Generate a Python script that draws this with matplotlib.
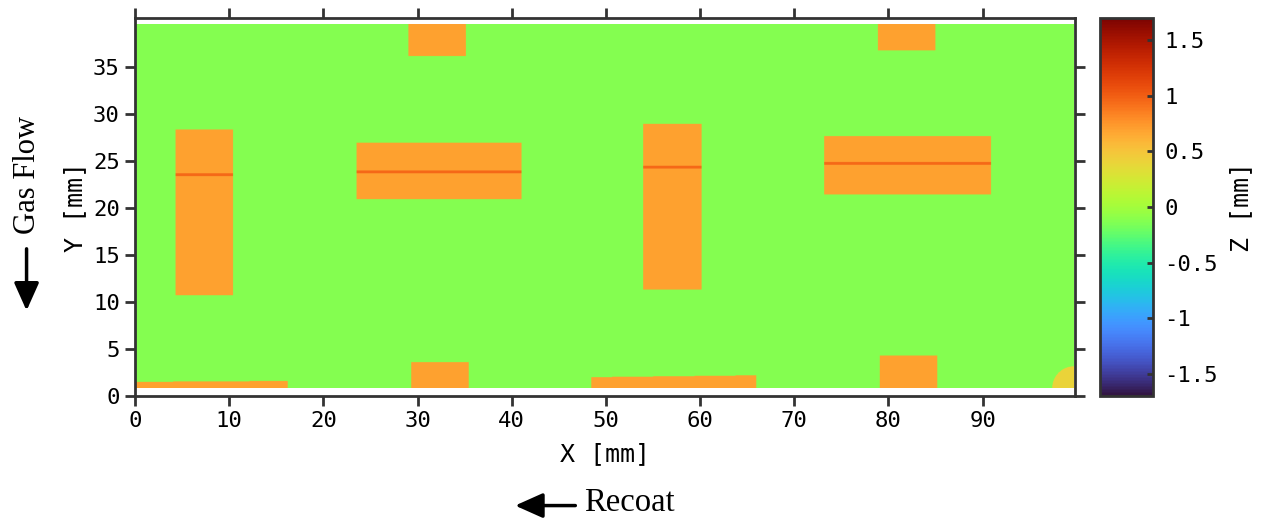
import matplotlib.pyplot as plt
from matplotlib.patches import FancyArrowPatch
import numpy as np

# build plate layout (mm) and measured heights (mm)
part_x0 = [4.3, 23.5, 29.0, 53.9, 73.1, 78.8, 29.3, 79.0]
part_x1 = [10.4, 41.0, 35.1, 60.1, 90.8, 84.9, 35.4, 85.1]
part_y0 = [10.7, 20.9, 36.1, 11.3, 21.4, 36.7, 0.85, 0.85]
part_y1 = [28.3, 26.9, 39.5, 28.9, 27.6, 39.5, 3.6, 4.3]
part_z = [0.7, 0.7, 0.7, 0.7, 0.7, 0.7, 0.7, 0.7]
ridge_y = [23.5, 23.8, np.nan, 24.3, 24.7, np.nan, np.nan, np.nan]
ridge_z = 0.95

# thin slanted strips along the lower edge
strip_x0 = [0.0, 48.4]
strip_x1 = [16.2, 65.9]
strip_top_left = [1.5, 2.0]
strip_top_right = [1.6, 2.2]
strip_z = 0.7

plate_z = -0.12
corner_z = 0.4
corner_r = 2.3

scan_x = (0.0, 99.6)
scan_y = (0.85, 39.5)
zlim = 1.7

# height map on a 0.05 mm grid
res = 0.05
xs = np.arange(scan_x[0], scan_x[1], res) + res / 2
ys = np.arange(scan_y[0], scan_y[1], res) + res / 2
X, Y = np.meshgrid(xs, ys)
Z = np.full(X.shape, plate_z)

for x0, x1, y0, y1, z, ry in zip(part_x0, part_x1, part_y0, part_y1, part_z, ridge_y):
    m = (X >= x0) & (X <= x1) & (Y >= y0) & (Y <= y1)
    Z[m] = z
    if not np.isnan(ry):
        Z[m & (np.abs(Y - ry) < 0.15)] = ridge_z

for x0, x1, tl, tr in zip(strip_x0, strip_x1, strip_top_left, strip_top_right):
    top = tl + (tr - tl) * (X - x0) / (x1 - x0)
    Z[(X >= x0) & (X <= x1) & (Y <= top)] = strip_z

Z[(X - scan_x[1]) ** 2 + (Y - scan_y[0]) ** 2 < corner_r ** 2] = corner_z

fig = plt.figure(figsize=(12.65, 5.18), dpi=100)
ax = fig.add_axes([0.1067, 0.2355, 0.7431, 0.7298])
cax = fig.add_axes([0.8696, 0.2355, 0.0419, 0.7298])

mono = 'DejaVu Sans Mono'
edge = '#333333'

im = ax.imshow(Z, origin='lower', cmap='turbo', vmin=-zlim, vmax=zlim,
               extent=[scan_x[0], scan_x[1], scan_y[0], scan_y[1]],
               aspect='auto', interpolation='antialiased')
ax.set_xlim(0, 99.8)
ax.set_ylim(0, 40.2)
ax.set_xticks(np.arange(0, 100, 10))
ax.set_yticks(np.arange(0, 40, 5))
ax.tick_params(direction='out', length=7, width=2, color=edge,
               top=True, right=True, labelsize=16, pad=4)
for lab in ax.get_xticklabels() + ax.get_yticklabels():
    lab.set_family(mono)
for s in ax.spines.values():
    s.set_linewidth(2)
    s.set_color(edge)
ax.set_xlabel('X [mm]', family=mono, fontsize=18, labelpad=8)
ax.set_ylabel('Y [mm]', family=mono, fontsize=18, labelpad=4)

cb = fig.colorbar(im, cax=cax)
cb.set_ticks([-1.5, -1, -0.5, 0, 0.5, 1, 1.5])
cb.set_ticklabels(['-1.5', '-1', '-0.5', '0', '0.5', '1', '1.5'])
cax.tick_params(direction='in', length=4, width=2, color=edge, labelsize=16, pad=8)
for lab in cax.get_yticklabels():
    lab.set_family(mono)
cb.outline.set_linewidth(2)
cb.outline.set_edgecolor(edge)
cb.set_label('Z [mm]', family=mono, fontsize=18, labelpad=8)

# process direction markers
serif = 'Liberation Serif'
arrow_style = '-|>,head_length=0.85,head_width=0.38'
fig.text(0.022, 0.662, 'Gas Flow', family=serif, fontsize=22, rotation=90,
         ha='center', va='center')
fig.add_artist(FancyArrowPatch(
    (0.021, 0.525), (0.021, 0.395), transform=fig.transFigure,
    arrowstyle=arrow_style, mutation_scale=20, lw=2.5, color='black'))
fig.text(0.462, 0.029, 'Recoat', family=serif, fontsize=23.5, ha='left', va='center')
fig.add_artist(FancyArrowPatch(
    (0.457, 0.024), (0.405, 0.024), transform=fig.transFigure,
    arrowstyle=arrow_style, mutation_scale=20, lw=2.5, color='black'))

fig.savefig('out.png', dpi=100)
